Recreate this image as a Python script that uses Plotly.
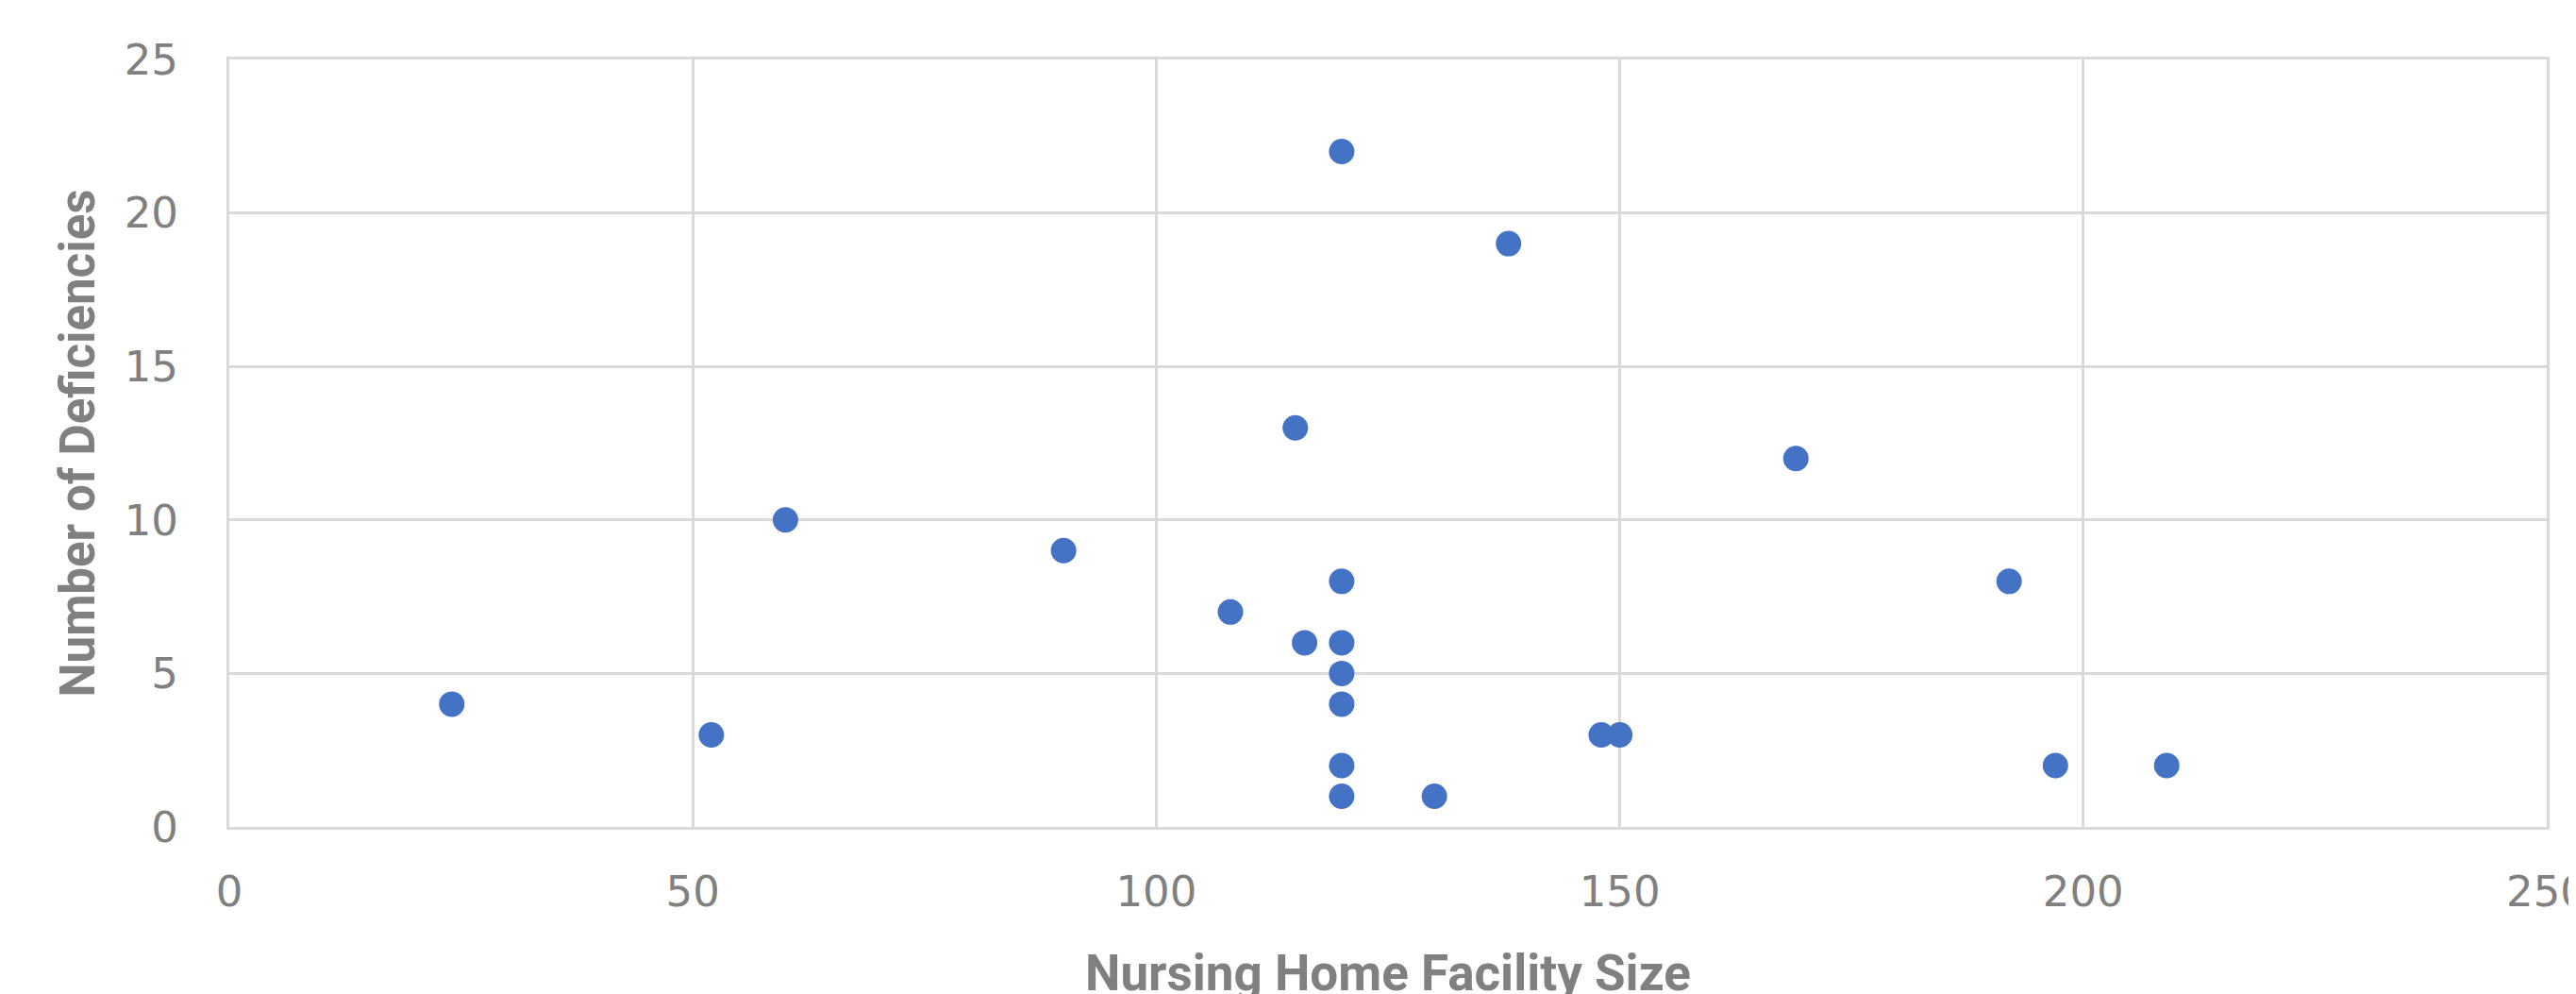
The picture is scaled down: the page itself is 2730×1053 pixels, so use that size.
import plotly.graph_objects as go

# Data
facility_size = [24, 52, 60, 90, 108, 116, 115, 120, 120, 120, 120, 120, 120, 120,
                 130, 138, 148, 150, 169, 192, 197, 209]
deficiencies = [4, 3, 10, 9, 7, 6, 13, 22, 8, 6, 5, 4, 2, 1,
                1, 19, 3, 3, 12, 8, 2, 2]

x_ticks = [0, 50, 100, 150, 200, 250]
y_ticks = [0, 5, 10, 15, 20, 25]

x_title = "Nursing Home Facility Size"
y_title = "Number of Deficiencies"

grid_color = "#d9d9d9"
text_color = "#808080"
tick_font = dict(family="DejaVu Sans", size=45, color=text_color)
title_font = dict(family="Roboto", size=51, color=text_color, weight="bold")
xtitle_font = dict(family="Roboto", size=53, color=text_color, weight="bold")

fig = go.Figure(
    go.Scatter(
        x=facility_size,
        y=deficiencies,
        mode="markers",
        marker=dict(color="#4472C4", size=27, line=dict(width=0)),
        showlegend=False,
    )
)

# page body has an 8px margin, so the figure is sized/offset to compensate
fig.update_layout(
    width=2722,
    height=1045,
    margin=dict(l=235, r=31, t=55, b=177, autoexpand=False),
    paper_bgcolor="white",
    plot_bgcolor="white",
)

# x-axis title as an annotation so it can sit low, as in the reference
fig.add_annotation(
    text=x_title,
    xref="paper", yref="paper",
    x=0.5, y=-0.1907,
    xanchor="center", yanchor="middle",
    showarrow=False,
    font=xtitle_font,
)

fig.update_xaxes(
    range=[0, 250],
    tickvals=x_ticks,
    ticktext=[str(v) for v in x_ticks],
    tickfont=tick_font,
    showgrid=True,
    gridcolor=grid_color,
    gridwidth=3,
    showline=True,
    linecolor=grid_color,
    linewidth=3,
    mirror=True,
    zeroline=False,
    ticks="",
    ticklabelstandoff=27,
    ticklabeloverflow="allow",
    automargin=False,
)

fig.update_yaxes(
    range=[0, 25],
    tickvals=y_ticks,
    ticktext=[str(v) for v in y_ticks],
    tickfont=tick_font,
    showgrid=True,
    gridcolor=grid_color,
    gridwidth=3,
    showline=True,
    linecolor=grid_color,
    linewidth=3,
    mirror=True,
    zeroline=False,
    ticks="",
    ticklabelstandoff=42,
    ticklabeloverflow="allow",
    title=dict(text=y_title, font=title_font, standoff=15),
    automargin=False,
)

fig.write_html("out.html")
